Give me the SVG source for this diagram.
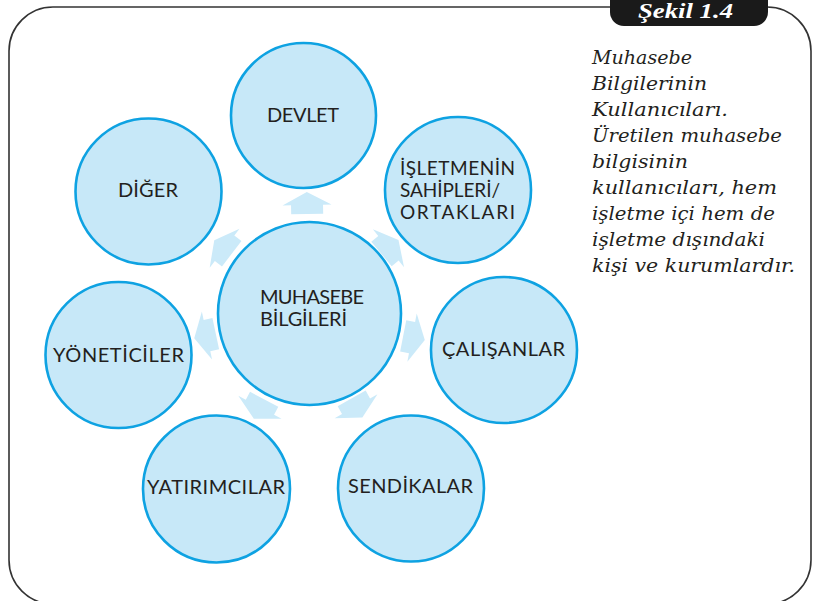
<svg xmlns="http://www.w3.org/2000/svg" width="816" height="601" viewBox="0 0 816 601">
<defs>
<style>
.node{fill:#c7e8f8;stroke:#0ea2e2;stroke-width:2.6}
.lbl{font-family:Lato,"Open Sans","DejaVu Sans",sans-serif;font-size:20px;fill:#231f20}
.sm{font-size:19px}
.cap{font-family:"DejaVu Serif","Liberation Serif",serif;font-style:italic;font-size:19px;fill:#231f20}
.arr{fill:#cbeaf9}
</style>
<path id="arrow" d="M -11,-16 L -2,-16 L -2,-24.5 L 11,0 L -2,24.5 L -2,16 L -11,16 Z"/>
</defs>
<rect x="9" y="7" width="802" height="597" rx="44" ry="44" fill="none" stroke="#333" stroke-width="1.6"/>
<g id="title">
<rect x="610" y="-14" width="158" height="40" rx="14" ry="14" fill="#1a1a1a"/>
<text x="638" y="18" textLength="95" lengthAdjust="spacingAndGlyphs" style="font-family:'Liberation Serif','DejaVu Serif',serif;font-style:italic;font-weight:bold;font-size:20px;fill:#fff">Şekil 1.4</text>
</g>
<g id="caption">
<text class="cap" x="592" y="64" textLength="100" lengthAdjust="spacingAndGlyphs">Muhasebe</text>
<text class="cap" x="592" y="90" textLength="115" lengthAdjust="spacingAndGlyphs">Bilgilerinin</text>
<text class="cap" x="592" y="116" textLength="136" lengthAdjust="spacingAndGlyphs">Kullanıcıları.</text>
<text class="cap" x="592" y="142" textLength="190" lengthAdjust="spacingAndGlyphs">Üretilen muhasebe</text>
<text class="cap" x="592" y="168" textLength="96" lengthAdjust="spacingAndGlyphs">bilgisinin</text>
<text class="cap" x="592" y="194" textLength="185" lengthAdjust="spacingAndGlyphs">kullanıcıları, hem</text>
<text class="cap" x="592" y="220" textLength="183" lengthAdjust="spacingAndGlyphs">işletme içi hem de</text>
<text class="cap" x="592" y="246" textLength="173" lengthAdjust="spacingAndGlyphs">işletme dışındaki</text>
<text class="cap" x="592" y="272" textLength="203" lengthAdjust="spacingAndGlyphs">kişi ve kurumlardır.</text>
</g>
<g id="connectors" class="arr">
<use href="#arrow" transform="translate(307,203) rotate(-91)"/>
<use href="#arrow" transform="translate(390,247) rotate(-39.5)"/>
<use href="#arrow" transform="translate(414,338) rotate(11)"/>
<use href="#arrow" transform="translate(357,408) rotate(61)"/>
<use href="#arrow" transform="translate(259,409) rotate(118)"/>
<use href="#arrow" transform="translate(205,336) rotate(168)"/>
<use href="#arrow" transform="translate(223,247) rotate(-142.5)"/>
</g>
<g id="node-muhasebe">
<circle class="node" cx="309.5" cy="313.5" r="91.5"/>
<text class="lbl" x="260" y="304" textLength="104" lengthAdjust="spacing">MUHASEBE</text>
<text class="lbl" x="260" y="326" textLength="87" lengthAdjust="spacing">BİLGİLERİ</text>
</g>
<g id="node-devlet">
<circle class="node" cx="303.5" cy="115.5" r="72.5"/>
<text class="lbl" x="267" y="122" textLength="72" lengthAdjust="spacing">DEVLET</text>
</g>
<g id="node-isletme">
<circle class="node" cx="458" cy="190" r="73"/>
<text class="lbl sm" x="400" y="175" textLength="115" lengthAdjust="spacing">İŞLETMENİN</text>
<text class="lbl sm" x="400" y="197" textLength="100" lengthAdjust="spacing">SAHİPLERİ/</text>
<text class="lbl sm" x="400" y="219" textLength="115" lengthAdjust="spacing">ORTAKLARI</text>
</g>
<g id="node-calisanlar">
<circle class="node" cx="504" cy="350" r="73"/>
<text class="lbl" x="442" y="356" textLength="123" lengthAdjust="spacing">ÇALIŞANLAR</text>
</g>
<g id="node-sendikalar">
<circle class="node" cx="411" cy="488.5" r="73"/>
<text class="lbl" x="348" y="493" textLength="125" lengthAdjust="spacing">SENDİKALAR</text>
</g>
<g id="node-yatirimcilar">
<circle class="node" cx="216.5" cy="489" r="73.5"/>
<text class="lbl" x="147" y="494" textLength="138" lengthAdjust="spacing">YATIRIMCILAR</text>
</g>
<g id="node-yoneticiler">
<circle class="node" cx="118.5" cy="355" r="73"/>
<text class="lbl" x="53" y="362" textLength="131" lengthAdjust="spacing">YÖNETİCİLER</text>
</g>
<g id="node-diger">
<circle class="node" cx="148.5" cy="191.5" r="73"/>
<text class="lbl" x="118" y="197" textLength="60" lengthAdjust="spacing">DİĞER</text>
</g>
</svg>
